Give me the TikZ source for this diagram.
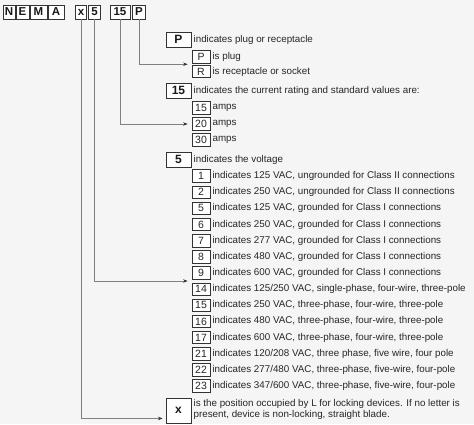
\documentclass[tikz,border=0pt]{standalone}
\usepackage{fontspec}
\setmainfont{Liberation Sans}
\usetikzlibrary{arrows.meta, calc}

\begin{document}
\begin{tikzpicture}[x=1pt, y=-1pt, >={Stealth[length=4.5pt, width=3.5pt, color=black!80]},
  codebox/.style={draw=black!80, line width=0.8pt, fill=white, inner sep=0pt, minimum height=14pt, text=black!90, font=\fontsize{11.5}{12}\selectfont\bfseries},
  keybox/.style={draw=black!80, line width=0.9pt, fill=white, inner sep=0pt, minimum width=25pt, minimum height=15pt, text=black!90, font=\fontsize{12}{13}\selectfont\bfseries},
  valbox/.style={draw=black!80, line width=0.7pt, fill=white, inner sep=0pt, minimum width=18pt, minimum height=12.5pt, text=black!85, font=\fontsize{10.5}{11}\selectfont},
  desc/.style={anchor=west, inner sep=2pt, text=black!85, font=\fontsize{9.8}{11}\selectfont},
  link/.style={draw=black!50, line width=0.7pt, ->}]
  \fill[black!4] (0,0) rectangle (474,424);
  \useasboundingbox (0,0) rectangle (474,424);
  % code on top
  \node[codebox, minimum width=12pt] (codeN) at (9.0,12.0) {N};
  \node[codebox, minimum width=13pt] (codeE) at (22.5,12.0) {E};
  \node[codebox, minimum width=17pt] (codeM) at (38.5,12.0) {M};
  \node[codebox, minimum width=16pt] (codeA) at (56.0,12.0) {A};
  \node[codebox, minimum width=11pt] (codex) at (81.0,12.0) {x};
  \node[codebox, minimum width=12pt] (code5) at (94.5,12.0) {5};
  \node[codebox, minimum width=20pt] (code15) at (120.0,12.0) {15};
  \node[codebox, minimum width=13pt] (codeP) at (139.0,12.0) {P};
  % plug or receptacle
  \node[keybox] (keyP) at (178.5,39.5) {P};
  \node[desc] (descP) at (keyP.east) {indicates plug or receptacle};
  \node[valbox] (valP) at (201.0,57.0) {P};
  \node[desc] (descvalP) at (valP.east) {is plug};
  \node[valbox] (valR) at (201.0,71.5) {R};
  \node[desc] (descvalR) at (valR.east) {is receptacle or socket};
  % current rating
  \node[keybox] (key15) at (178.5,90.5) {15};
  \node[desc] (desc15) at (key15.east) {indicates the current rating and standard values are:};
  \node[valbox] (amp15) at (201.0,108.0) {15};
  \node[desc] (descamp15) at (amp15.east) {amps};
  \node[valbox] (amp20) at (201.0,124.0) {20};
  \node[desc] (descamp20) at (amp20.east) {amps};
  \node[valbox] (amp30) at (201.0,140.0) {30};
  \node[desc] (descamp30) at (amp30.east) {amps};
  % voltage
  \node[keybox] (key5) at (178.5,159.5) {5};
  \node[desc] (desc5) at (key5.east) {indicates the voltage};
  \node[valbox] (volt1) at (201.0,176.0) {1};
  \node[desc] (descvolt1) at (volt1.east) {indicates 125 VAC, ungrounded for Class II connections};
  \node[valbox] (volt2) at (201.0,192.2) {2};
  \node[desc] (descvolt2) at (volt2.east) {indicates 250 VAC, ungrounded for Class II connections};
  \node[valbox] (volt5) at (201.0,208.3) {5};
  \node[desc] (descvolt5) at (volt5.east) {indicates 125 VAC, grounded for Class I connections};
  \node[valbox] (volt6) at (201.0,224.5) {6};
  \node[desc] (descvolt6) at (volt6.east) {indicates 250 VAC, grounded for Class I connections};
  \node[valbox] (volt7) at (201.0,240.6) {7};
  \node[desc] (descvolt7) at (volt7.east) {indicates 277 VAC, grounded for Class I connections};
  \node[valbox] (volt8) at (201.0,256.8) {8};
  \node[desc] (descvolt8) at (volt8.east) {indicates 480 VAC, grounded for Class I connections};
  \node[valbox] (volt9) at (201.0,272.9) {9};
  \node[desc] (descvolt9) at (volt9.east) {indicates 600 VAC, grounded for Class I connections};
  \node[valbox] (volt14) at (201.0,289.1) {14};
  \node[desc] (descvolt14) at (volt14.east) {indicates 125/250 VAC, single-phase, four-wire, three-pole};
  \node[valbox] (volt15) at (201.0,305.2) {15};
  \node[desc] (descvolt15) at (volt15.east) {indicates 250 VAC, three-phase, four-wire, three-pole};
  \node[valbox] (volt16) at (201.0,321.4) {16};
  \node[desc] (descvolt16) at (volt16.east) {indicates 480 VAC, three-phase, four-wire, three-pole};
  \node[valbox] (volt17) at (201.0,337.5) {17};
  \node[desc] (descvolt17) at (volt17.east) {indicates 600 VAC, three-phase, four-wire, three-pole};
  \node[valbox] (volt21) at (201.0,353.7) {21};
  \node[desc] (descvolt21) at (volt21.east) {indicates 120/208 VAC, three phase, five wire, four pole};
  \node[valbox] (volt22) at (201.0,369.8) {22};
  \node[desc] (descvolt22) at (volt22.east) {indicates 277/480 VAC, three-phase, five-wire, four-pole};
  \node[valbox] (volt23) at (201.0,386.0) {23};
  \node[desc] (descvolt23) at (volt23.east) {indicates 347/600 VAC, three-phase, five-wire, four-pole};
  % locking position
  \node[keybox, minimum height=25pt] (keyx) at (178.5,410.5) {x};
  \node[desc, anchor=north west, align=left] (descx) at ($(keyx.north east)+(0,-0.5)$) {is the position occupied by L for locking devices. If no letter is\\present, device is non-locking, straight blade.};
  % connectors
  \coordinate (toP) at ($(valP.west)!0.5!(valR.west)$);
  \coordinate (to5) at ($(volt9.west)!0.5!(volt14.west)$);
  \coordinate (tox) at ($(keyx.south west)+(0,-5)$);
  \draw[link, shorten >=4pt] (codeP.south) |- (toP);
  \draw[link, shorten >=4pt] (code15.south) |- (amp20.west);
  \draw[link, shorten >=4pt] (code5.south) |- (to5);
  \draw[link, shorten >=3pt] (codex.south) |- (tox);
\end{tikzpicture}
\end{document}
